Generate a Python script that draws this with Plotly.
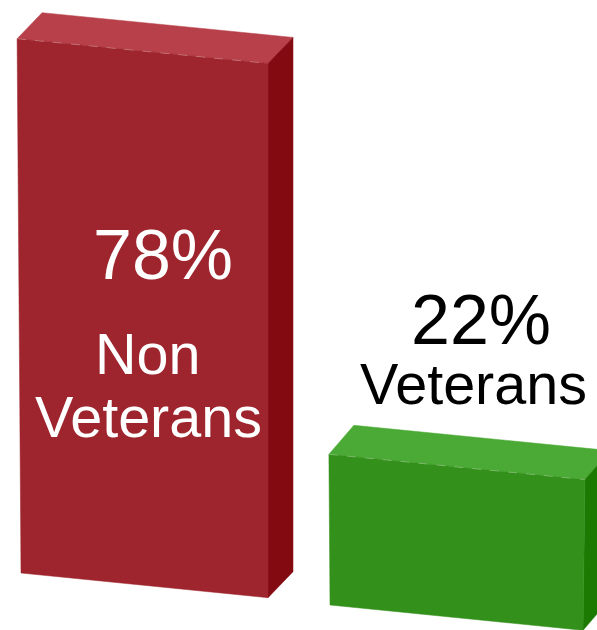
import plotly.graph_objects as go

# Data
categories = ["Non Veterans", "Veterans"]
percent_values = [78, 22]
percent_labels = ["78%", "22%"]

# Projection settings (oblique view of a 3D bar)
W, H = 597, 630
PX_PER_PCT = 6.85
BAR_STEP_X, BAR_STEP_Y = 309, 32
ORIGIN_X, ORIGIN_Y = 21, 573
BAR_W = [247, 253]
SLOPE = 0.1
DEPTH_X = 25
DEPTH_Y = [26, 29]
LEFT_LEAN = -0.05
RIGHT_LEAN = [0.0, 0.09]

FRONT = ["#9E252D", "#33911B"]
TOP = ["#B8404A", "#4BAA35"]
SIDE = ["#840A12", "#1C7A03"]
TEXT = ["#FFFFFF", "#000000"]


def to_y(py):
    return (H - py) / PX_PER_PCT


def corners(i, value):
    """Corners of a bar in plot coordinates; height comes from the value."""
    x0 = ORIGIN_X + BAR_STEP_X * i
    py0 = ORIGIN_Y + BAR_STEP_Y * i
    h = value
    bl = (x0, to_y(py0))
    br = (x0 + BAR_W[i], to_y(py0 + BAR_W[i] * SLOPE))
    tl = (x0 + LEFT_LEAN * h, bl[1] + h)
    tr = (br[0] + RIGHT_LEAN[i] * h, br[1] + h)
    return bl, br, tr, tl


def back(p, i):
    return (p[0] + DEPTH_X, p[1] + DEPTH_Y[i] / PX_PER_PCT)


def poly(points, color, name):
    xs = [p[0] for p in points] + [points[0][0]]
    ys = [p[1] for p in points] + [points[0][1]]
    return go.Scatter(x=xs, y=ys, mode="lines", fill="toself", fillcolor=color,
                      line=dict(color=color, width=0.5), name=name,
                      hoverinfo="name", showlegend=False)


fig = go.Figure()
for i, (cat, v) in enumerate(zip(categories, percent_values)):
    bl, br, tr, tl = corners(i, v)
    fig.add_trace(poly([tl, tr, back(tr, i), back(tl, i)], TOP[i], cat + " top"))
    fig.add_trace(poly([br, back(br, i), back(tr, i), tr], SIDE[i], cat + " side"))
    fig.add_trace(poly([bl, br, tr, tl], FRONT[i], cat))
    fig.add_trace(go.Scatter(x=[tl[0], tr[0]], y=[tl[1], tr[1]], mode="lines",
                             line=dict(color="rgba(255,255,255,0.28)", width=1, dash="dash"),
                             hoverinfo="skip", showlegend=False))

LABEL_FONT = "Liberation Sans, Arial, sans-serif"


def label(text, px, py, size, color):
    fig.add_annotation(x=px, y=to_y(py), text=text, showarrow=False,
                       xanchor="center", yanchor="middle",
                       font=dict(family=LABEL_FONT, size=size, color=color))


label(percent_labels[0], 163, 255, 70, TEXT[0])
label("Non", 147, 354, 57.5, TEXT[0])
label("Veterans", 148, 417, 57.5, TEXT[0])
label(percent_labels[1], 481, 320, 70, TEXT[1])
label(categories[1], 473, 384, 57.5, TEXT[1])

fig.update_layout(
    width=W, height=H, margin=dict(l=0, r=0, t=0, b=0),
    paper_bgcolor="white", plot_bgcolor="white", showlegend=False,
    xaxis=dict(range=[0, W], visible=False, fixedrange=True),
    yaxis=dict(range=[0, H / PX_PER_PCT], visible=False, fixedrange=True),
)

fig.write_html("out.html", config={"displayModeBar": False},
               post_script="document.body.style.margin='0';")
